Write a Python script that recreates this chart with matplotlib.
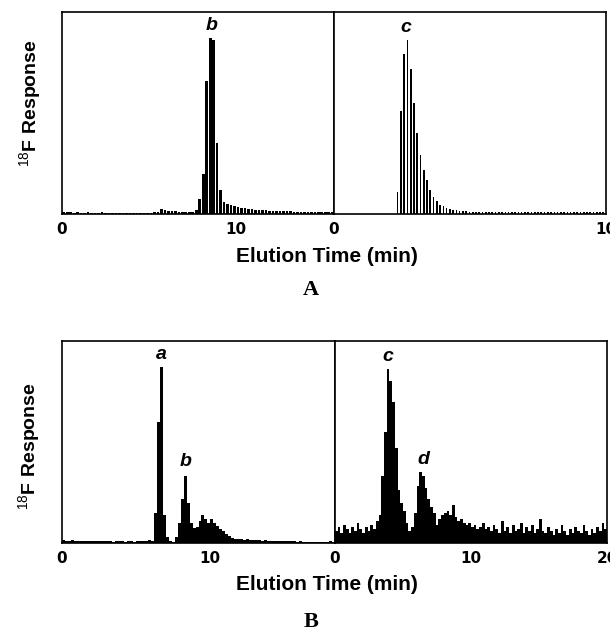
import matplotlib.pyplot as plt
import numpy as np

# ---- data (% of full scale) ----
# panel A, left trace: 0.2 min bins from 0 to 15.6 min
a_left_dt = 0.2
a_left = [1.0, 0.8, 0.9, 0.7, 0.8, 0.6, 0.7, 0.8, 0.6, 0.7, 0.6, 0.8, 0.7, 0.6,
          0.7, 0.5, 0.6, 0.7, 0.6, 0.5, 0.7, 0.6, 0.5, 0.6, 0.7, 0.6, 0.8, 1.0,
          2.5, 2.0, 1.5, 1.4, 1.3, 1.2, 1.2, 1.1, 1.0, 1.2,
          2.0, 7.5, 20, 66, 87, 86, 35, 12, 6.0, 5.0, 4.5, 4.0, 3.5, 3.0, 3.0,
          2.6, 2.5, 2.2, 2.0, 2.0, 1.8, 1.7, 1.6, 1.5, 1.5, 1.4, 1.3, 1.3, 1.2,
          1.2, 1.1, 1.0, 1.1, 1.0, 0.9, 1.0, 0.9, 0.8, 0.9, 0.8]

# panel A, right trace: 0.12 min bins from 0 to 10 min
a_right_dt = 0.12
a_right = [0.2] * 19 + [
    11, 51, 79, 86, 72, 55, 40, 29, 22, 17, 12, 8.5, 6.5, 4.5, 4.0, 3.0, 2.5,
    2.0, 1.8, 1.6, 1.5, 1.3, 1.2, 1.1, 1.2, 1.0, 1.1, 0.9, 1.0, 1.2, 1.0, 0.9,
    1.1, 1.0, 0.8, 1.0, 1.1, 0.9, 1.0, 0.8, 0.9, 1.0, 1.1, 0.9, 0.8, 1.0, 0.9,
    1.0, 0.8, 0.9, 1.1, 0.9, 0.8, 1.0, 0.9, 0.8, 1.0, 0.9, 0.8, 1.0, 0.9, 0.8,
    0.9, 1.0]

# panel B, left trace: 0.2 min bins from 0 to 18.4 min
b_left_dt = 0.2
b_left = [1.5, 1.2, 1.0, 1.3, 1.1, 0.9, 1.2, 1.0, 1.1, 0.8, 1.0, 1.2, 0.9, 1.0,
          0.8, 1.1, 0.9, 0.7, 1.0, 0.8, 0.9, 0.7, 0.8, 1.0, 0.7, 0.8, 0.9, 1.2,
          1.0, 1.4, 1.2,
          15, 60, 87, 14, 3.0, 1.0, 0.5, 3.0, 10, 22, 33, 20, 10, 7.5, 8.0, 11,
          14, 12, 10, 12, 10, 8.5, 7.0, 6.0, 4.5, 3.5, 2.5, 2.2, 2.0, 1.8, 1.6,
          2.0, 1.5, 1.4, 1.6, 1.3, 1.2, 1.5, 1.1, 1.0, 1.2, 0.9, 1.0, 1.1, 0.8,
          0.9, 0.8, 1.0, 0.7, 0.8, 0.6, 0.7, 0.6, 0.5, 0.6, 0.5, 0.7, 0.5, 0.6,
          0.8, 0.6]

# panel B, right trace: 0.2 min bins from 0 to 20 min
b_right_dt = 0.2
b_right = [6, 8, 5, 9, 7, 5, 8, 6, 10, 7, 5, 8, 6, 9, 7, 11,
           14, 33, 55, 86, 80, 70, 47, 26, 20, 16, 10, 6, 8, 15, 28, 35, 33,
           27, 22, 18, 15, 9, 12, 14, 15, 16, 14, 19, 13, 11, 12, 10, 9, 10,
           8, 9, 7, 8, 10, 7, 8, 6, 9, 7, 5, 11, 6, 8, 5, 9, 6, 7, 10, 5,
           8, 6, 9, 5, 7, 12, 6, 5, 8, 6, 4, 7, 5, 9, 6, 4, 7, 5, 8, 6,
           5, 9, 6, 4, 7, 5, 8, 6, 10, 7]

plt.rcParams['font.family'] = ['Liberation Sans', 'DejaVu Sans']
plt.rcParams['mathtext.fontset'] = 'custom'
plt.rcParams['mathtext.rm'] = 'Liberation Sans'

fig = plt.figure(figsize=(6.1, 6.33), dpi=100)

tick_font = dict(family=['Liberation Sans Narrow', 'DejaVu Sans'],
                 weight='bold', size=11)
peak_font = dict(weight='bold', style='italic', size=14)


def trace(ax, values, dt, xmax, ticks, frac):
    t = np.arange(len(values)) * dt + dt / 2
    ax.bar(t, values, width=dt * frac, color='black', linewidth=0)
    ax.set_xlim(0, xmax)
    ax.set_ylim(0, 100)
    ax.set_yticks([])
    ax.set_xticks(ticks)
    ax.set_xticklabels([str(v) for v in ticks], **tick_font)
    ax.tick_params(axis='x', length=0, pad=6)
    for s in ax.spines.values():
        s.set_linewidth(1.2)


def panel(bottom, top, div, right, left_data, right_data, left_max,
          right_max, right_ticks, peaks_l, peaks_r, letter, letter_y, xlab_y,
          frac_l, frac_r, ylab_pos):
    l0 = 62 / 610
    h = top - bottom
    ax1 = fig.add_axes([l0, bottom, div - l0, h])
    ax2 = fig.add_axes([div, bottom, right - div, h])
    trace(ax1, left_data[0], left_data[1], left_max, [0, 10], frac_l)
    trace(ax2, right_data[0], right_data[1], right_max, right_ticks, frac_r)
    ax1.set_ylabel('$^{18}$F Response', fontsize=14, fontweight='bold')
    ax1.yaxis.set_label_coords(-0.068, ylab_pos)
    for x, y, s in peaks_l:
        ax1.text(x, y, s, ha='center', va='bottom', **peak_font)
    for x, y, s in peaks_r:
        ax2.text(x, y, s, ha='center', va='bottom', **peak_font)
    fig.text(327 / 610, xlab_y, 'Elution Time (min)', ha='center',
             va='center', fontsize=15, fontweight='bold')
    fig.text(311 / 610, letter_y, letter, ha='center', va='center',
             fontsize=16, fontweight='bold', family='Liberation Serif')


panel(1 - 214 / 633, 1 - 12 / 633, 334 / 610, 606 / 610,
      (a_left, a_left_dt), (a_right, a_right_dt), 15.6, 10, [0, 10],
      [(8.6, 89, 'b')], [(2.65, 88, 'c')], 'A', 1 - 290 / 633,
      1 - 256 / 633, 0.75, 0.5, 0.55)

panel(1 - 543 / 633, 1 - 341 / 633, 335 / 610, 607 / 610,
      (b_left, b_left_dt), (b_right, b_right_dt), 18.4, 20, [0, 10, 20],
      [(6.7, 89, 'a'), (8.3, 36, 'b')], [(3.9, 88, 'c'), (6.5, 37, 'd')],
      'B', 1 - 622 / 633, 1 - 584 / 633, 1.0, 1.0, 0.48)

fig.savefig('out.png', dpi=100)
